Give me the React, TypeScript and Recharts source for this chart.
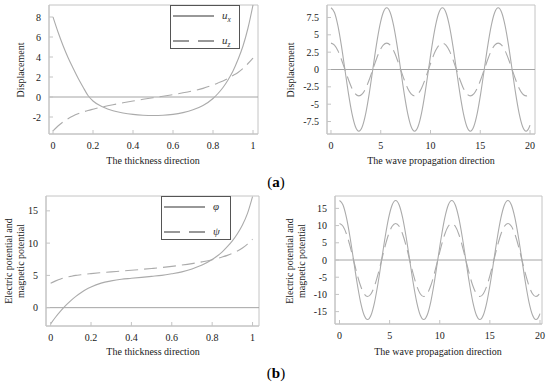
import React from 'react';
import { LineChart, Line, XAxis, YAxis, ReferenceLine, ReferenceArea } from 'recharts';

// ---------- data ----------
const thicknessX = [0, 0.025, 0.05, 0.075, 0.1, 0.125, 0.15, 0.175, 0.2, 0.25, 0.3, 0.35, 0.4, 0.45, 0.5, 0.55, 0.6, 0.65, 0.7, 0.75, 0.8, 0.825, 0.85, 0.875, 0.9, 0.925, 0.95, 0.975, 1];
const uxThick = [8.0, 6.5, 5.15, 3.95, 2.9, 1.9, 1.0, 0.15, -0.4, -1.0, -1.38, -1.6, -1.74, -1.82, -1.85, -1.83, -1.74, -1.56, -1.28, -0.85, -0.15, 0.35, 0.95, 1.7, 2.6, 3.75, 5.1, 6.9, 9.2];
const uzThick = [-3.4, -2.9, -2.5, -2.17, -1.9, -1.68, -1.5, -1.35, -1.22, -0.98, -0.77, -0.58, -0.4, -0.23, -0.07, 0.08, 0.24, 0.42, 0.62, 0.86, 1.2, 1.4, 1.6, 1.85, 2.15, 2.45, 2.85, 3.35, 3.9];
const phiThick = [-2.5, -1.45, -0.5, 0.35, 1.1, 1.75, 2.3, 2.8, 3.2, 3.8, 4.15, 4.4, 4.55, 4.7, 4.85, 5.0, 5.25, 5.55, 6.0, 6.6, 7.45, 8.0, 8.65, 9.45, 10.35, 11.45, 12.8, 14.6, 17.2];
const psiThick = [3.8, 4.15, 4.45, 4.68, 4.85, 5.0, 5.1, 5.2, 5.28, 5.42, 5.55, 5.67, 5.8, 5.93, 6.07, 6.22, 6.4, 6.6, 6.83, 7.1, 7.42, 7.62, 7.85, 8.1, 8.4, 8.78, 9.25, 9.85, 10.6];

const waveX = [0, 0.35, 0.7, 1.05, 1.4, 1.75, 2.1, 2.45, 2.8, 3.15, 3.5, 3.85, 4.2, 4.55, 4.9, 5.25,
  5.6, 5.95, 6.3, 6.65, 7.0, 7.35, 7.7, 8.05, 8.4, 8.75, 9.1, 9.45, 9.8, 10.15, 10.5, 10.85,
  11.2, 11.55, 11.9, 12.25, 12.6, 12.95, 13.3, 13.65, 14.0, 14.35, 14.7, 15.05, 15.4, 15.75, 16.1, 16.45,
  16.8, 17.15, 17.5, 17.85, 18.2, 18.55, 18.9, 19.25, 19.6, 19.95, 20];
const uxWave = [8.9, 8.22, 6.29, 3.41, 0, -3.41, -6.29, -8.22, -8.9, -8.22, -6.29, -3.41, 0, 3.41, 6.29, 8.22,
  8.9, 8.22, 6.29, 3.41, 0, -3.41, -6.29, -8.22, -8.9, -8.22, -6.29, -3.41, 0, 3.41, 6.29, 8.22,
  8.9, 8.22, 6.29, 3.41, 0, -3.41, -6.29, -8.22, -8.9, -8.22, -6.29, -3.41, 0, 3.41, 6.29, 8.22,
  8.9, 8.22, 6.29, 3.41, 0, -3.41, -6.29, -8.22, -8.9, -8.22, -8.02];
const uzWave = [3.8, 3.51, 2.69, 1.45, 0, -1.45, -2.69, -3.51, -3.8, -3.51, -2.69, -1.45, 0, 1.45, 2.69, 3.51,
  3.8, 3.51, 2.69, 1.45, 0, -1.45, -2.69, -3.51, -3.8, -3.51, -2.69, -1.45, 0, 1.45, 2.69, 3.51,
  3.8, 3.51, 2.69, 1.45, 0, -1.45, -2.69, -3.51, -3.8, -3.51, -2.69, -1.45, 0, 1.45, 2.69, 3.51,
  3.8, 3.51, 2.69, 1.45, 0, -1.45, -2.69, -3.51, -3.8, -3.51, -3.42];
const phiWave = [17.3, 15.98, 12.23, 6.62, 0, -6.62, -12.23, -15.98, -17.3, -15.98, -12.23, -6.62, 0, 6.62, 12.23, 15.98,
  17.3, 15.98, 12.23, 6.62, 0, -6.62, -12.23, -15.98, -17.3, -15.98, -12.23, -6.62, 0, 6.62, 12.23, 15.98,
  17.3, 15.98, 12.23, 6.62, 0, -6.62, -12.23, -15.98, -17.3, -15.98, -12.23, -6.62, 0, 6.62, 12.23, 15.98,
  17.3, 15.98, 12.23, 6.62, 0, -6.62, -12.23, -15.98, -17.3, -15.98, -15.59];
const psiWave = [10.6, 9.79, 7.5, 4.06, 0, -4.06, -7.5, -9.79, -10.6, -9.79, -7.5, -4.06, 0, 4.06, 7.5, 9.79,
  10.6, 9.79, 7.5, 4.06, 0, -4.06, -7.5, -9.79, -10.6, -9.79, -7.5, -4.06, 0, 4.06, 7.5, 9.79,
  10.6, 9.79, 7.5, 4.06, 0, -4.06, -7.5, -9.79, -10.6, -9.79, -7.5, -4.06, 0, 4.06, 7.5, 9.79,
  10.6, 9.79, 7.5, 4.06, 0, -4.06, -7.5, -9.79, -10.6, -9.79, -9.55];

const thickTicks = [0, 0.2, 0.4, 0.6, 0.8, 1];
const waveTicks = [0, 5, 10, 15, 20];
const dispThickTicks = [-2, 0, 2, 4, 6, 8];
const dispWaveTicks = [-7.5, -5, -2.5, 0, 2.5, 5, 7.5];
const potThickTicks = [0, 5, 10, 15];
const potWaveTicks = [-15, -10, -5, 0, 5, 10, 15];

const thickRows = thicknessX.map((x, i) => ({ x, a: uxThick[i], b: uzThick[i], c: phiThick[i], d: psiThick[i] }));
const waveRows = waveX.map((x, i) => ({ x, a: uxWave[i], b: uzWave[i], c: phiWave[i], d: psiWave[i] }));

// ---------- styles ----------
const FONT = 'Liberation Serif, Times New Roman, serif';
const CURVE = '#ababab';
const FRAME = '#c4c4c4';
const ZERO = '#a4a4a4';
const DASH = '13 6';
const tickStyle = { fill: '#1a1a1a', fontSize: 10, fontFamily: FONT };

type PanelProps = {
  left: number; top: number; width: number; height: number;
  pl: number; pt: number; pr: number; pb: number;
  data: any[]; k1: string; k2: string;
  xDomain: [number, number]; xTicks: number[];
  yDomain: [number, number]; yTicks: number[];
};

function Panel(p: PanelProps) {
  return (
    <div style={{ position: 'absolute', left: p.left, top: p.top, width: p.width, height: p.height }}>
      <LineChart width={p.width} height={p.height} data={p.data}
        margin={{ top: p.pt, right: p.width - p.pr, bottom: 0, left: 0 }}>
        <XAxis dataKey="x" type="number" domain={p.xDomain} ticks={p.xTicks} interval={0}
          height={p.height - p.pb} axisLine={{ stroke: FRAME }} tickLine={{ stroke: FRAME }}
          tickSize={-4} tickMargin={12} tick={tickStyle} allowDataOverflow />
        <XAxis xAxisId="top" orientation="top" type="number" domain={p.xDomain} ticks={p.xTicks} interval={0} height={0}
          tick={false} tickLine={{ stroke: FRAME }} tickSize={-4} axisLine={{ stroke: FRAME }} allowDataOverflow />
        <YAxis type="number" domain={p.yDomain} ticks={p.yTicks} interval={0} width={p.pl}
          axisLine={{ stroke: FRAME }} tickLine={{ stroke: FRAME }} tickSize={-4} tickMargin={12}
          tick={tickStyle} allowDataOverflow />
        <YAxis yAxisId="right" orientation="right" type="number" domain={p.yDomain} ticks={p.yTicks} interval={0} width={0}
          tick={false} tickLine={{ stroke: FRAME }} tickSize={-4} axisLine={{ stroke: FRAME }} allowDataOverflow />
        <ReferenceArea x1={p.xDomain[0]} x2={p.xDomain[1]} y1={p.yDomain[0]} y2={p.yDomain[1]}
          fill="none" fillOpacity={0} stroke={FRAME} strokeWidth={1} />
        <ReferenceLine y={0} stroke={ZERO} strokeWidth={1} />
        <Line dataKey={p.k1} type="monotone" stroke={CURVE} strokeWidth={1.1} dot={false} isAnimationActive={false} />
        <Line dataKey={p.k2} type="monotone" stroke={CURVE} strokeWidth={1.1} strokeDasharray={DASH} dot={false} isAnimationActive={false} />
      </LineChart>
    </div>
  );
}

function VLabel({ x, y, lines }: { x: number; y: number; lines: string[] }) {
  const gap = 12;
  const start = x - ((lines.length - 1) * gap) / 2;
  return (
    <g>
      {lines.map((s, i) => {
        const cx = start + i * gap;
        return (
          <text key={i} x={cx} y={y} transform={`rotate(-90 ${cx} ${y})`} textAnchor="middle"
            dominantBaseline="central" fontSize={10} fontFamily={FONT} fill="#1a1a1a">{s}</text>
        );
      })}
    </g>
  );
}

function HLabel({ x, y, text }: { x: number; y: number; text: string }) {
  return (
    <text x={x} y={y} textAnchor="middle" dominantBaseline="central" fontSize={10} fontFamily={FONT} fill="#1a1a1a">{text}</text>
  );
}

function LegendBox({ x, y, w, h, l1, l2 }: { x: number; y: number; w: number; h: number; l1: React.ReactNode; l2: React.ReactNode }) {
  return (
    <g>
      <rect x={x + 0.5} y={y + 0.5} width={w} height={h} fill="#fff" stroke="#555" strokeWidth={1} />
      <line x1={x + 3} x2={x + 44} y1={y + 11} y2={y + 11} stroke="#333" strokeWidth={1.2} />
      <line x1={x + 3} x2={x + 44} y1={y + 36} y2={y + 36} stroke="#333" strokeWidth={1.2} strokeDasharray="16 9" />
      <g fontFamily={FONT} fontSize={11} fontStyle="italic" fill="#333">
        <text x={x + 52} y={y + 14}>{l1}</text>
        <text x={x + 52} y={y + 39}>{l2}</text>
      </g>
    </g>
  );
}

export default function App() {
  return (
    <div style={{ position: 'absolute', left: 0, top: 0, width: 550, height: 382, background: '#fff', overflow: 'hidden' }}>
      <Panel left={0} top={0} width={275} height={191} pl={49} pt={5} pr={258} pb={134}
        data={thickRows} k1="a" k2="b" xDomain={[-0.02, 1.025]} xTicks={thickTicks} yDomain={[-3.7, 9.2]} yTicks={dispThickTicks} />
      <Panel left={275} top={0} width={275} height={191} pl={52} pt={5} pr={260} pb={134}
        data={waveRows} k1="a" k2="b" xDomain={[-0.4, 20.5]} xTicks={waveTicks} yDomain={[-9.3, 9.3]} yTicks={dispWaveTicks} />
      <Panel left={0} top={191} width={275} height={191} pl={46} pt={5} pr={259} pb={135}
        data={thickRows} k1="c" k2="d" xDomain={[-0.023, 1.032]} xTicks={thickTicks} yDomain={[-2.84, 17.3]} yTicks={potThickTicks} />
      <Panel left={275} top={191} width={275} height={191} pl={60} pt={5} pr={267} pb={133}
        data={waveRows} k1="c" k2="d" xDomain={[-0.45, 20.2]} xTicks={waveTicks} yDomain={[-18.6, 18.6]} yTicks={potWaveTicks} />
      <svg width={550} height={382} style={{ position: 'absolute', left: 0, top: 0, pointerEvents: 'none' }}>
        <VLabel x={20} y={70} lines={['Displacement']} />
        <HLabel x={153} y={160} text="The thickness direction" />
        <VLabel x={290} y={70} lines={['Displacement']} />
        <HLabel x={431} y={160} text="The wave propagation direction" />
        <VLabel x={14} y={261} lines={['Electric potential and', 'magnetic potential']} />
        <HLabel x={153} y={351} text="The thickness direction" />
        <VLabel x={295} y={261} lines={['Electric potential and', 'magnetic potential']} />
        <HLabel x={438} y={351} text="The wave propagation direction" />
        <LegendBox x={170} y={5} w={69} h={43}
          l1={<>u<tspan fontSize={7.5} dy={2.5}>x</tspan></>}
          l2={<>u<tspan fontSize={7.5} dy={2.5}>z</tspan></>} />
        <LegendBox x={161} y={196} w={69} h={43} l1={<>φ</>} l2={<>ψ</>} />
        <text x={276} y={187} textAnchor="middle" fontFamily={FONT} fontSize={15} fill="#000">
          (<tspan fontWeight="bold">a</tspan>)
        </text>
        <text x={276} y={378} textAnchor="middle" fontFamily={FONT} fontSize={15} fill="#000">
          (<tspan fontWeight="bold">b</tspan>)
        </text>
      </svg>
    </div>
  );
}
